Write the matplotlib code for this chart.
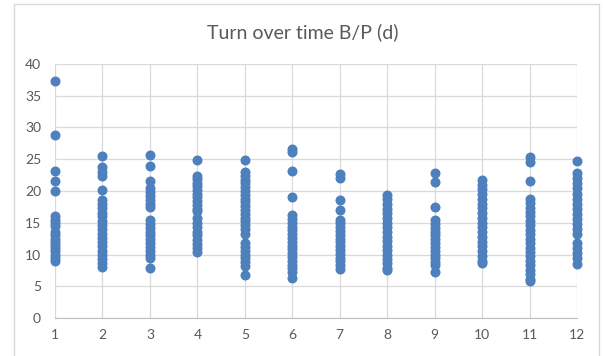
import matplotlib
matplotlib.use("Agg")
import matplotlib.pyplot as plt
from matplotlib.patches import Rectangle

BLUE = "#4E80BD"
GRID = "#D9D9D9"
TEXT = "#595959"

# turnover time (days) per group, 1..12
g1 = [37.3, 28.8, 23.1, 21.5, 20.0, 16.0, 15.5, 15.0, 14.5, 13.6, 13.0, 12.5,
      12.0, 11.5, 11.0, 10.5, 10.0, 9.5, 9.0]
g2 = [25.5, 23.8, 23.0, 22.3, 20.2, 18.6, 18.0, 17.3, 16.6, 16.0, 15.3, 14.6,
      14.0, 13.3, 12.6, 12.0, 11.3, 10.6, 10.0, 9.3, 8.6, 8.1]
g3 = [25.7, 24.0, 21.5, 20.4, 19.8, 19.2, 18.6, 18.0, 17.5, 15.4, 14.8, 14.2,
      13.6, 13.0, 12.4, 11.8, 11.2, 10.6, 10.0, 9.4, 7.9]
g4 = [24.9, 22.4, 21.9, 21.3, 20.8, 20.2, 19.6, 19.0, 18.4, 17.8, 17.2, 16.8,
      15.7, 15.0, 14.3, 13.6, 13.0, 12.3, 11.6, 11.0, 10.4]
g5 = [24.9, 23.0, 22.4, 21.8, 21.2, 20.6, 20.0, 19.4, 18.8, 18.2, 17.6, 17.0,
      16.4, 15.8, 15.2, 14.6, 14.0, 13.3, 11.8, 11.2, 10.6, 10.0, 9.4, 8.8,
      8.2, 6.8]
g6 = [26.6, 26.1, 23.2, 19.1, 16.2, 15.6, 15.0, 14.4, 13.8, 13.2, 12.6, 12.0,
      11.4, 10.8, 10.2, 9.6, 9.0, 8.4, 7.8, 7.2, 6.3]
g7 = [22.6, 22.1, 18.6, 17.0, 15.5, 14.9, 14.3, 13.7, 13.1, 12.5, 11.9, 11.3,
      10.7, 10.1, 9.5, 8.9, 8.3, 7.7]
g8 = [19.4, 18.8, 18.0, 17.2, 16.5, 15.8, 15.0, 14.3, 13.6, 12.8, 12.1, 11.4,
      10.7, 10.0, 9.3, 8.6, 7.9, 7.5]
g9 = [22.9, 21.4, 17.5, 15.4, 14.8, 14.2, 13.6, 13.0, 12.4, 11.8, 11.2, 10.6,
      10.0, 9.4, 8.8, 8.3, 7.3]
g10 = [21.8, 21.0, 20.3, 19.5, 18.8, 18.0, 17.3, 16.5, 15.8, 15.0, 14.3, 13.5,
       12.8, 12.0, 11.3, 10.5, 9.8, 9.0, 8.6]
g11 = [25.3, 24.6, 21.6, 18.8, 18.1, 17.4, 16.7, 16.0, 15.3, 14.6, 13.9, 13.2,
       12.5, 11.8, 11.1, 10.4, 9.7, 9.0, 8.3, 7.6, 6.9, 6.2, 5.8]
g12 = [24.7, 22.8, 22.0, 21.2, 20.4, 19.6, 18.8, 18.0, 17.2, 16.4, 15.6, 14.8,
       14.0, 13.3, 11.8, 11.0, 10.2, 9.4, 8.5]
groups = [g1, g2, g3, g4, g5, g6, g7, g8, g9, g10, g11, g12]
xticks = list(range(1, 13))
yticks = [0, 5, 10, 15, 20, 25, 30, 35, 40]

plt.rcParams["font.family"] = ["Lato", "DejaVu Sans"]

fig = plt.figure(figsize=(6.05, 3.56), dpi=100)
# chart frame around the whole plot
fig.add_artist(Rectangle((14 / 605, -0.1), 585 / 605, 1.1 - 4 / 356,
                         transform=fig.transFigure, fill=False,
                         ec=GRID, lw=1))
ax = fig.add_axes([55 / 605, 1 - 318 / 356, 522 / 605, 254 / 356])

for x, vals in zip(xticks, groups):
    ax.scatter([x] * len(vals), vals, s=52, color=BLUE, zorder=3,
               linewidths=0, clip_on=False)

ax.set_xlim(1, 12)
ax.set_ylim(0, 40)
ax.set_xticks(xticks)
ax.set_yticks(yticks)
ax.grid(True, color=GRID, lw=0.9)
ax.set_axisbelow(True)
for side in ["left", "top", "right"]:
    ax.spines[side].set_visible(False)
ax.spines["bottom"].set_color("#BFBFBF")
ax.tick_params(length=0, labelsize=10, colors=TEXT, pad=8)
ax.tick_params(axis="y", pad=10)

fig.text(0.5, 1 - 32 / 356, "Turn over time B/P (d)", ha="center",
         va="center", fontsize=14, color=TEXT)

fig.savefig("out.png", dpi=100)
